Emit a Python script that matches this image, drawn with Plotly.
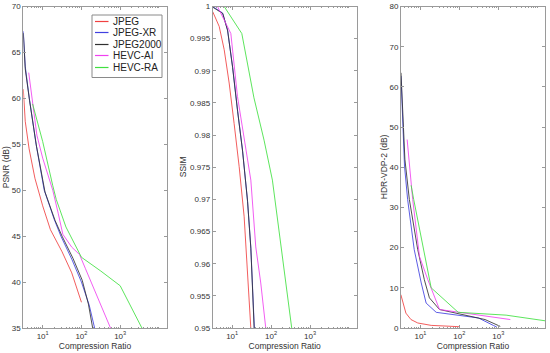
import plotly.graph_objects as go

W, H = 550, 353

series_names = ["JPEG", "JPEG-XR", "JPEG2000", "HEVC-AI", "HEVC-RA"]
series_colors = ["#f04040", "#4040e0", "#303030", "#f040f0", "#40e040"]

# ---- PSNR (dB) vs compression ratio (log10 of ratio given) ----
psnr_logx = {
    "JPEG":     [0.50, 0.55, 0.65, 0.80, 1.00, 1.20, 1.50, 1.75, 2.00],
    "JPEG-XR":  [0.50, 0.55, 0.655, 0.83, 1.04, 1.30, 1.47, 1.75, 2.00, 2.20, 2.34],
    "JPEG2000": [0.50, 0.55, 0.66, 0.84, 1.06, 1.32, 1.50, 1.78, 2.02, 2.18, 2.29],
    "HEVC-AI":  [0.64, 0.72, 0.85, 1.00, 1.26, 1.40, 1.52, 1.75, 1.95, 2.10, 2.25, 2.50, 2.75],
    "HEVC-RA":  [0.74, 1.00, 1.26, 1.35, 1.60, 1.90, 2.00, 2.50, 3.00, 3.56],
}
psnr_vals = {
    "JPEG":     [61.0, 57.5, 54.5, 51.3, 48.3, 45.7, 43.3, 41.0, 37.8],
    "JPEG-XR":  [67.3, 63.5, 60.0, 55.0, 50.0, 46.8, 45.0, 42.5, 40.0, 37.5, 35.0],
    "JPEG2000": [67.1, 63.2, 59.8, 54.8, 49.8, 46.7, 45.0, 42.6, 40.2, 37.6, 35.0],
    "HEVC-AI":  [62.8, 60.0, 56.0, 53.5, 50.0, 47.5, 45.2, 43.8, 43.0, 41.5, 40.0, 37.5, 35.0],
    "HEVC-RA":  [59.4, 55.3, 50.5, 49.0, 46.0, 43.5, 42.7, 41.2, 39.6, 35.0],
}

# ---- SSIM ----
ssim_logx = {
    "JPEG":     [0.50, 0.667, 0.795, 0.923, 1.05, 1.18, 1.308, 1.393, 1.479],
    "JPEG-XR":  [0.50, 0.752, 0.88, 1.009, 1.137, 1.265, 1.393, 1.479, 1.57],
    "JPEG2000": [0.50, 0.76, 0.885, 1.012, 1.14, 1.268, 1.396, 1.48, 1.565],
    "HEVC-AI":  [0.624, 0.966, 1.137, 1.308, 1.48, 1.607, 1.735, 1.863],
    "HEVC-RA":  [0.795, 1.248, 1.56, 1.82, 2.034, 2.25, 2.53],
}
ssim_vals = {
    "JPEG":     [0.9992, 0.9969, 0.9933, 0.9881, 0.9818, 0.9751, 0.9673, 0.9595, 0.9500],
    "JPEG-XR":  [1.0000, 0.9990, 0.9964, 0.9907, 0.9839, 0.9777, 0.9699, 0.9626, 0.9500],
    "JPEG2000": [0.9999, 0.9989, 0.9962, 0.9905, 0.9837, 0.9775, 0.9697, 0.9624, 0.9500],
    "HEVC-AI":  [1.0000, 0.9958, 0.9860, 0.9792, 0.9730, 0.9626, 0.9570, 0.9500],
    "HEVC-RA":  [1.0000, 0.9958, 0.9858, 0.9792, 0.9730, 0.9626, 0.9500],
}

# ---- HDR-VDP-2 (dB) ----
hdr_logx = {
    "JPEG":     [0.496, 0.626, 0.756, 0.93, 1.275, 1.71, 2.01],
    "JPEG-XR":  [0.50, 0.59, 0.67, 0.84, 1.02, 1.146, 1.405, 2.14, 2.49, 2.88, 2.96],
    "JPEG2000": [0.50, 0.60, 0.714, 0.93, 1.10, 1.23, 1.49, 2.14, 2.66, 3.05],
    "HEVC-AI":  [0.658, 0.80, 0.975, 1.19, 1.49, 2.14, 3.31],
    "HEVC-RA":  [0.76, 0.826, 1.275, 1.97, 3.20, 4.20],
}
hdr_vals = {
    "JPEG":     [8.3, 3.7, 2.1, 1.25, 0.65, 0.4, 0.32],
    "JPEG-XR":  [62.7, 40.3, 32.0, 19.5, 11.2, 6.2, 3.9, 2.9, 2.5, 0.6, 0.25],
    "JPEG2000": [63.5, 42.0, 32.0, 19.5, 12.0, 7.5, 4.6, 3.3, 2.1, 0.4],
    "HEVC-AI":  [46.9, 32.0, 17.8, 12.0, 4.6, 3.7, 2.1],
    "HEVC-RA":  [35.5, 32.0, 10.0, 3.9, 3.2, 1.8],
}

psnr_ticks = [35, 40, 45, 50, 55, 60, 65, 70]
ssim_ticks = [0.95, 0.955, 0.96, 0.965, 0.97, 0.975, 0.98, 0.985, 0.99, 0.995, 1.0]
ssim_ticktext = ["0.95", "0.955", "0.96", "0.965", "0.97", "0.975", "0.98", "0.985", "0.99", "0.995", "1"]
hdr_ticks = [0, 10, 20, 30, 40, 50, 60, 70, 80]
x_major = [10, 100, 1000]
x_major_text = ["10<sup>1</sup>", "10<sup>2</sup>", "10<sup>3</sup>"]
x_minor = [m * 10 ** k for k in range(0, 5) for m in range(2, 10)] + [10000]
y_titles = ["PSNR (dB)", "SSIM", "HDR-VDP-2 (dB)"]

fig = go.Figure()

panels = [
    (psnr_logx, psnr_vals, "x", "y"),
    (ssim_logx, ssim_vals, "x2", "y2"),
    (hdr_logx, hdr_vals, "x3", "y3"),
]
for lx, vals, xa, ya in panels:
    for name, col in zip(series_names, series_colors):
        fig.add_trace(go.Scatter(
            x=[10 ** v for v in lx[name]], y=vals[name], mode="lines",
            line=dict(color=col, width=0.85), name=name, showlegend=False,
            xaxis=xa, yaxis=ya, hoverinfo="skip"))

axis_col = "#9a9a9a"
txt_col = "#333333"
font = dict(family="Liberation Sans, Arial, sans-serif", size=8, color=txt_col)

def px2fx(px):
    return px / W

def py2fy(py):
    return 1 - py / H

x_domains = [(23.3, 166.7), (212.7, 356.7), (401, 545)]
y_dom = [py2fy(328), py2fy(6.5)]

def xaxis_def(dom, anchor):
    return dict(
        type="log", range=[0.5, 4.2], domain=[px2fx(dom[0]), px2fx(dom[1])],
        anchor=anchor, showline=True, linecolor=axis_col, linewidth=1, mirror="ticks",
        ticks="inside", ticklen=3, tickcolor=axis_col, tickvals=x_major, ticktext=x_major_text,
        tickfont=font, showgrid=False, zeroline=False, automargin=False, fixedrange=True,
        minor=dict(ticks="inside", ticklen=1.5, tickcolor=axis_col, tickvals=x_minor, showgrid=False),
        title=dict(text="Compression Ratio", font=dict(family=font["family"], size=8.5, color=txt_col), standoff=2),
    )

def yaxis_def(anchor, rng, tv, tt):
    return dict(
        range=rng, domain=y_dom, anchor=anchor, showline=True, linecolor=axis_col, linewidth=1,
        mirror="ticks", ticks="inside", ticklen=3, tickcolor=axis_col, tickvals=tv, ticktext=tt,
        tickfont=font, showgrid=False, zeroline=False, automargin=False, fixedrange=True,
    )

fig.update_layout(
    width=W, height=H, margin=dict(l=0, r=0, t=0, b=0),
    paper_bgcolor="white", plot_bgcolor="white",
    xaxis=xaxis_def(x_domains[0], "y"),
    xaxis2=xaxis_def(x_domains[1], "y2"),
    xaxis3=xaxis_def(x_domains[2], "y3"),
    yaxis=yaxis_def("x", [35, 70], psnr_ticks, [str(t) for t in psnr_ticks]),
    yaxis2=yaxis_def("x2", [0.95, 1.0], ssim_ticks, ssim_ticktext),
    yaxis3=yaxis_def("x3", [0, 80], hdr_ticks, [str(t) for t in hdr_ticks]),
)

# y-axis titles as rotated annotations
for title, xp in zip(y_titles, [6, 183, 384]):
    fig.add_annotation(xref="paper", yref="paper", x=px2fx(xp), y=(y_dom[0] + y_dom[1]) / 2,
                       text=title, showarrow=False, textangle=-90, xanchor="center", yanchor="middle",
                       font=dict(family=font["family"], size=8.5, color=txt_col))

# manual legend (compact, like the original)
lg_left, lg_right, lg_top, lg_bot = 92, 162, 15, 77.5
fig.add_shape(type="rect", xref="paper", yref="paper",
              x0=px2fx(lg_left), x1=px2fx(lg_right), y0=py2fy(lg_bot), y1=py2fy(lg_top),
              line=dict(color="#8a8a8a", width=1), fillcolor="white", layer="above")
for i, (name, col) in enumerate(zip(series_names, series_colors)):
    yy = int(21 + i * 11.5) + 0.5
    fig.add_shape(type="line", xref="paper", yref="paper",
                  x0=px2fx(95), x1=px2fx(108.5), y0=py2fy(yy), y1=py2fy(yy),
                  line=dict(color=col, width=1.2), layer="above")
    fig.add_annotation(xref="paper", yref="paper", x=px2fx(110.5), y=py2fy(yy),
                       text=name, showarrow=False, xanchor="left", yanchor="middle",
                       font=dict(family=font["family"], size=10, color="#222222"))

fig.write_html("out.html", config={"displayModeBar": False, "staticPlot": True},
               post_script="document.body.style.margin='0';document.body.style.overflow='hidden';")
